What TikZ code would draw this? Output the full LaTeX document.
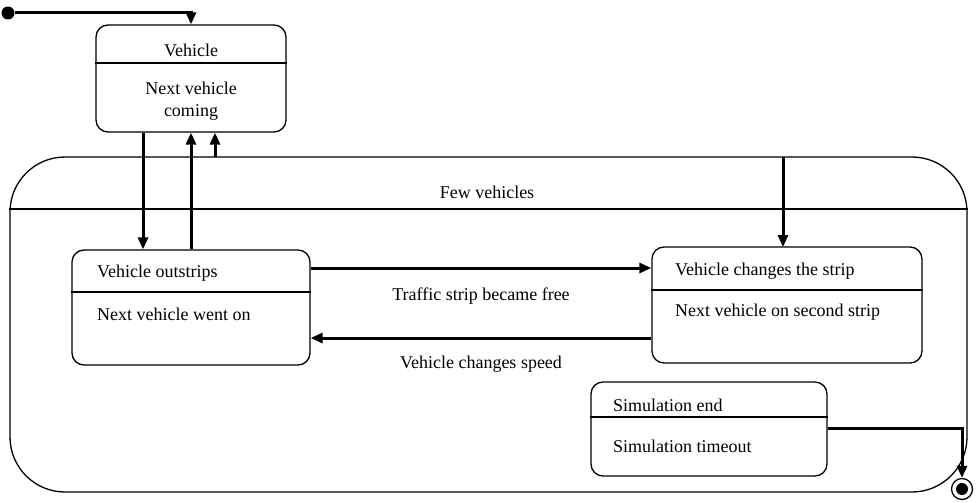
\documentclass[tikz,border=0pt]{standalone}
\usepackage{fontspec}
\setmainfont{Liberation Serif}
\usetikzlibrary{positioning}
\usetikzlibrary{arrows.meta}
\usetikzlibrary{calc}
\tikzset{state/.style={draw, rounded corners=12pt, line width=1.3pt, inner sep=0pt}}
\tikzset{trans/.style={-{Triangle[length=12pt,width=10pt]}, line width=3pt}}
\tikzset{txt/.style={font=\fontsize{18}{22}\selectfont, inner sep=0pt}}

\begin{document}
\begin{tikzpicture}[x=1pt,y=-1pt]
\useasboundingbox (0,0) rectangle (977,503);

\node[state, minimum width=190pt, minimum height=107pt] (veh) at (191,78.5) {};
\node[state, rounded corners=55pt, minimum width=957pt, minimum height=335pt] (few) at (488.5,324.5) {};
\node[state, minimum width=238pt, minimum height=115pt] (outs) at (191,307.5) {};
\node[state, minimum width=270pt, minimum height=116pt] (chg) at (787,305) {};
\node[state, minimum width=236pt, minimum height=94pt] (sim) at (709,429) {};

% compartments
\draw[line width=1.3pt] (veh.west |- 0,63) -- (veh.east |- 0,63);
\draw[line width=1.3pt] (few.west |- 0,209) -- (few.east |- 0,209);
\draw[line width=1.3pt] (outs.west |- 0,292) -- (outs.east |- 0,292);
\draw[line width=1.3pt] (chg.west |- 0,290) -- (chg.east |- 0,290);
\draw[line width=1.3pt] (sim.west |- 0,417) -- (sim.east |- 0,417);

\node[txt] (vehname) at (191,50) {Vehicle};
\node[txt, align=center] (vehact) at (191,101) {Next vehicle\\coming};
\node[txt] (fewname) at (487,192) {Few vehicles};
\node[txt, anchor=west] (outsname) at (97,273) {Vehicle outstrips};
\node[txt, anchor=west] (outsact) at (97,314) {Next vehicle went on};
\node[txt, anchor=west] (chgname) at (675,271) {Vehicle changes the strip};
\node[txt, anchor=west] (chgact) at (675,312) {Next vehicle on second strip};
\node[txt, anchor=west] (simname) at (613,405) {Simulation end};
\node[txt, anchor=west] (simact) at (613,446) {Simulation timeout};

% pseudo states
\node[circle, fill, minimum size=13pt, inner sep=0pt] (init) at (8,13) {};
\node[circle, draw, line width=1.3pt, minimum size=21pt, inner sep=0pt] (fin) at (962,489) {};
\fill (fin.center) circle (6pt);

\coordinate (f1) at (215,157);
\coordinate (f2) at (783,157);
\coordinate (c2) at (783,247);

\draw[trans] (init) -| (veh.north);
\draw[trans] ([xshift=-48pt]veh.south) -- ([xshift=-48pt]outs.north);
\draw[trans] (outs.north) -- (veh.south);
\draw[trans] (f1) -- ([xshift=24pt]veh.south);
\draw[trans] (f2) -- (c2);
\draw[trans] (outs.east |- 0,268) -- node[txt, below=18pt] (free) {Traffic strip became free} (chg.west |- 0,268);
\draw[trans] (chg.west |- 0,338) -- node[txt, below=17pt] (speed) {Vehicle changes speed} (outs.east |- 0,338);
\draw[trans] (sim.east |- 0,428) -| (fin.north);
\end{tikzpicture}
\end{document}
